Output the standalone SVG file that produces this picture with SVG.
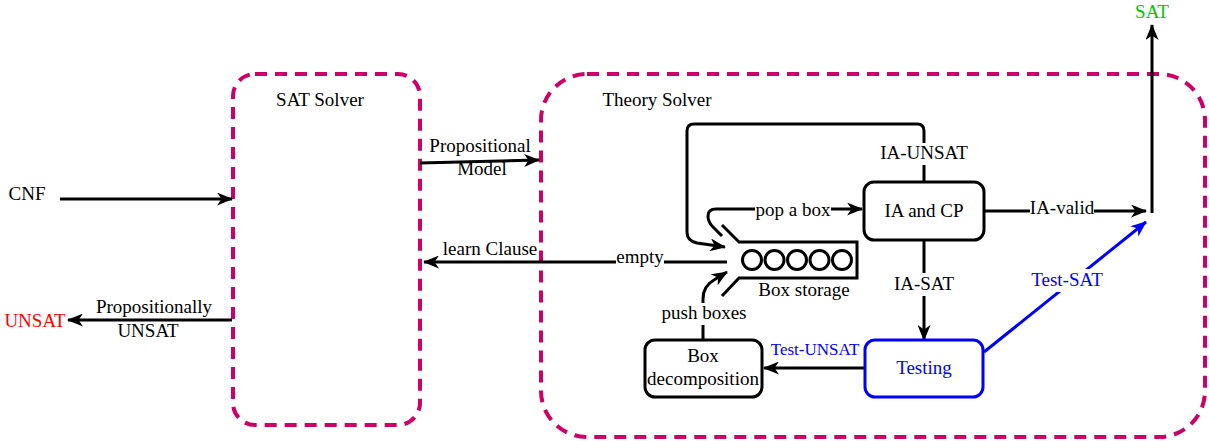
<svg xmlns="http://www.w3.org/2000/svg" width="1209" height="441" viewBox="0 0 1209 441">
  <style>
    text { font-family: "Liberation Serif", "Times New Roman", serif; font-size: 19px; fill: #000; text-anchor: middle; }
    .solver { fill: none; stroke: #cc0066; stroke-width: 4; stroke-dasharray: 12 8; }
    .node { fill: #fff; stroke: #000; stroke-width: 3; }
    .node-blue { fill: #fff; stroke: #0000ff; stroke-width: 3; }
    .edge { fill: none; stroke: #000; stroke-width: 3; marker-end: url(#arrow); }
    .edge-blue { fill: none; stroke: #0000ff; stroke-width: 3; marker-end: url(#arrow-blue); }
    .blue { fill: #0000ff; }
    .red { fill: #ff0000; }
    .green { fill: #00c400; }
    .bg { fill: #fff; stroke: none; }
  </style>
  <defs>
    <marker id="arrow" viewBox="0 0 16 13" refX="15" refY="6.5" markerWidth="16" markerHeight="13" markerUnits="userSpaceOnUse" orient="auto">
      <path d="M0,0 L16,6.5 L0,13 L4.5,6.5 Z" fill="#000"/>
    </marker>
    <marker id="arrow-blue" viewBox="0 0 16 13" refX="15" refY="6.5" markerWidth="16" markerHeight="13" markerUnits="userSpaceOnUse" orient="auto">
      <path d="M0,0 L16,6.5 L0,13 L4.5,6.5 Z" fill="#0000ff"/>
    </marker>
  </defs>

  <!-- solver containers -->
  <g id="sat-solver">
    <rect class="solver" x="233" y="74" width="187" height="351" rx="22"/>
    <text x="320" y="106">SAT Solver</text>
  </g>
  <g id="theory-solver">
    <rect class="solver" x="541" y="74" width="664" height="363" rx="46"/>
    <text x="657" y="106">Theory Solver</text>
  </g>

  <!-- terminals -->
  <g id="cnf"><text x="27" y="200">CNF</text></g>
  <g id="unsat"><text class="red" x="35" y="327">UNSAT</text></g>
  <g id="sat"><text class="green" x="1152" y="18">SAT</text></g>

  <!-- connectors -->
  <g id="connectors">
    <path class="edge" d="M60,199 H232"/>
    <path class="edge" d="M232,320 H68"/>
    <path class="edge" d="M420,163 L539,160"/>
    <path class="edge" d="M727,262 H424"/>
    <path class="edge" d="M924,181 V131 Q924,124 917,124 H694 Q687,124 687,131 V232 Q687,241 697,243 L725,247"/>
    <path class="edge" d="M722,236 L713,227 Q708,222 708,216 Q708,209 716,209 H862"/>
    <path class="edge" d="M703,340 V299 Q703,286 714,280 L727,272"/>
    <path class="edge" d="M924,240 V340"/>
    <path class="edge" d="M865,368 H764"/>
    <path class="edge" d="M984,211 H1146"/>
    <path class="edge" d="M1152,213 V25"/>
    <path class="edge-blue" d="M984,352 L1146,222"/>
  </g>

  <!-- connector labels -->
  <g id="edge-labels">
    <text x="154" y="313">Propositionally</text>
    <text x="148" y="337">UNSAT</text>
    <text x="480" y="152">Propositional</text>
    <text x="482" y="175">Model</text>
    <text x="490" y="255">learn Clause</text>
    <rect class="bg" x="616" y="249" width="48" height="22"/>
    <text x="640" y="263">empty</text>
    <rect class="bg" x="879" y="143" width="90" height="22"/>
    <text x="924" y="159">IA-UNSAT</text>
    <rect class="bg" x="755" y="199" width="76" height="22"/>
    <text x="793" y="216">pop a box</text>
    <rect class="bg" x="1030" y="199" width="64" height="22"/>
    <text x="1062" y="214">IA-valid</text>
    <rect class="bg" x="891" y="273" width="66" height="23"/>
    <text x="924" y="290">IA-SAT</text>
    <rect class="bg" x="661" y="303" width="85" height="22"/>
    <text x="704" y="319">push boxes</text>
    <text class="blue" x="815" y="355" style="font-size:17px">Test-UNSAT</text>
    <rect class="bg" x="1028" y="269" width="78" height="23"/>
    <text class="blue" x="1067" y="286">Test-SAT</text>
  </g>

  <!-- box storage queue -->
  <g id="box-storage">
    <path d="M722,225 L739,242 H857 V278 H739 L722,296" fill="none" stroke="#000" stroke-width="3"/>
    <circle cx="752" cy="260" r="9.5" fill="none" stroke="#000" stroke-width="3"/>
    <circle cx="774.5" cy="260" r="9.5" fill="none" stroke="#000" stroke-width="3"/>
    <circle cx="797" cy="260" r="9.5" fill="none" stroke="#000" stroke-width="3"/>
    <circle cx="819.5" cy="260" r="9.5" fill="none" stroke="#000" stroke-width="3"/>
    <circle cx="842" cy="260" r="9.5" fill="none" stroke="#000" stroke-width="3"/>
    <text x="804" y="296">Box storage</text>
  </g>

  <!-- processing nodes -->
  <g id="ia-cp">
    <rect class="node" x="864" y="182" width="120" height="58" rx="10"/>
    <text x="924" y="217">IA and CP</text>
  </g>
  <g id="box-decomposition">
    <rect class="node" x="645" y="340" width="117" height="57" rx="10"/>
    <text x="703" y="362">Box</text>
    <text x="703" y="385">decomposition</text>
  </g>
  <g id="testing">
    <rect class="node-blue" x="865" y="340" width="118" height="57" rx="10"/>
    <text class="blue" x="924" y="374">Testing</text>
  </g>
</svg>
